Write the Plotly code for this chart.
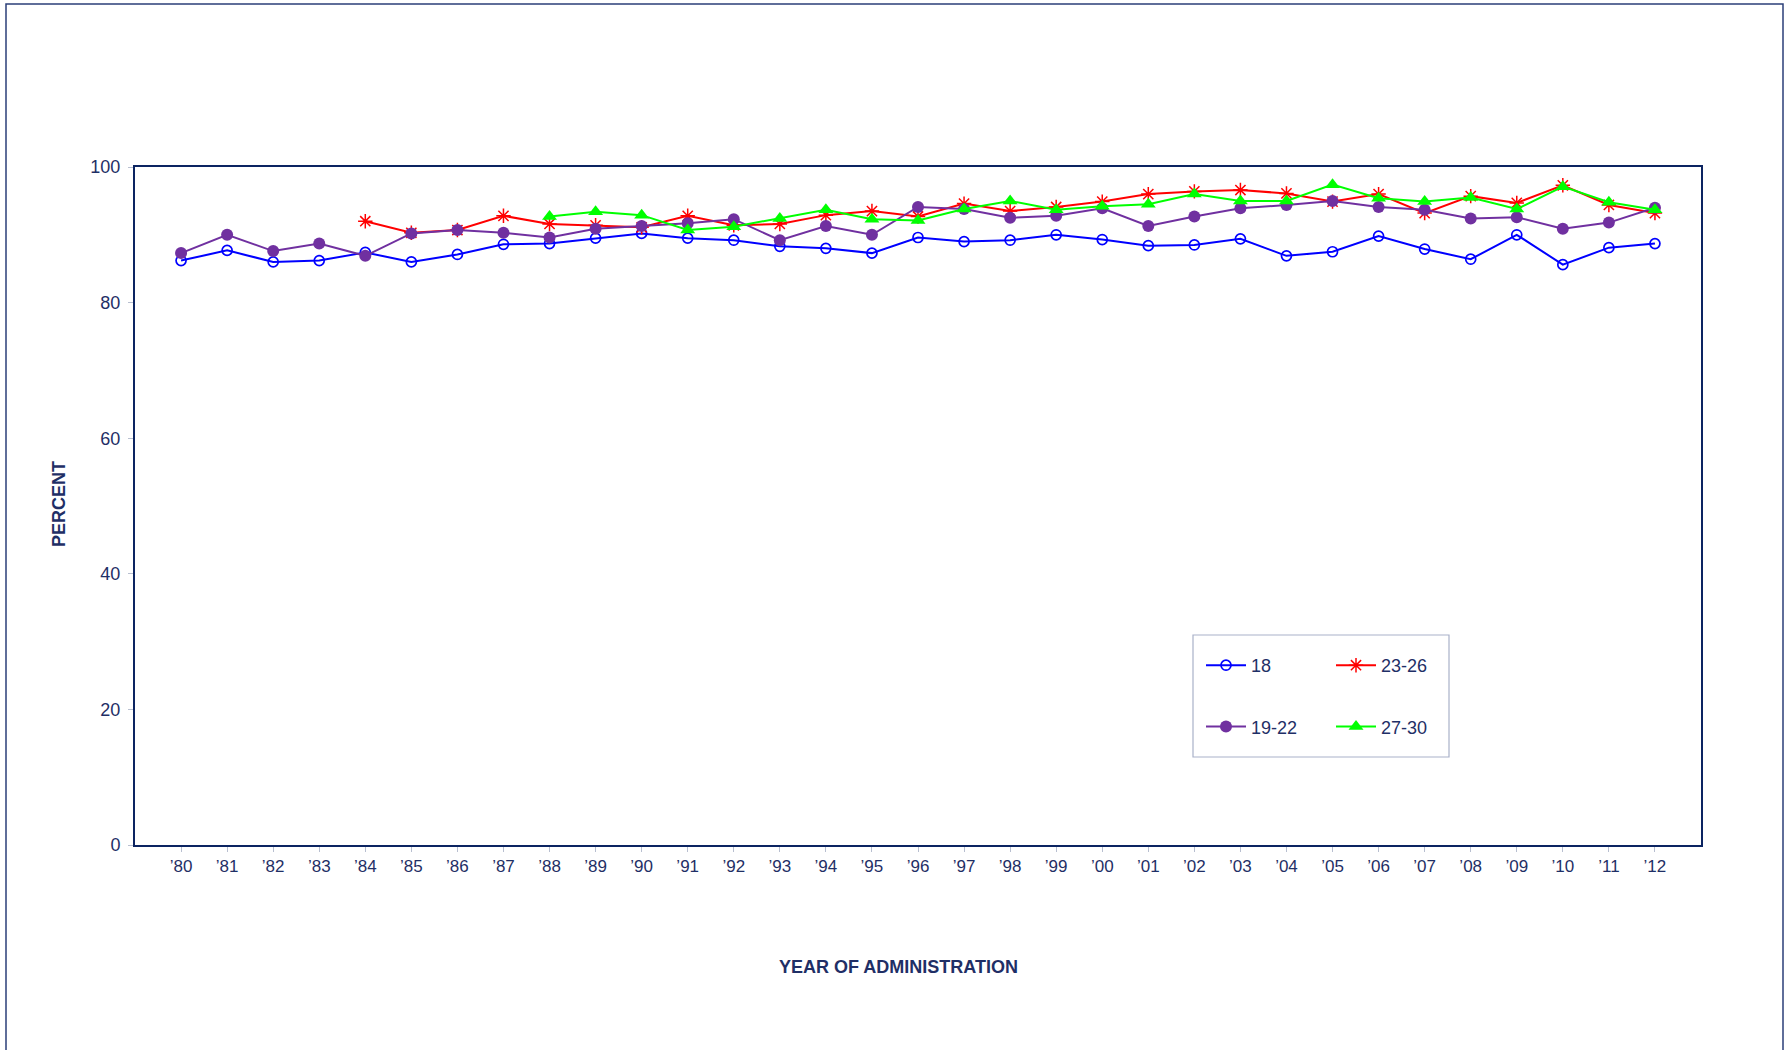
"""
Percent trend by age group, 1980-2012, Excel-style line chart.
"""
import plotly.graph_objects as go

# ── Theme ────────────────────────────────────────────────────────────────────
_NAVY = "#1f2f66"
_AXIS = "#0c2461"
_BOX = "#a9b1c9"
_FONT = "Liberation Sans, Arial, sans-serif"

# ── Data ─────────────────────────────────────────────────────────────────────
YEAR_LABELS = ["’80", "’81", "’82", "’83", "’84", "’85", "’86", "’87", "’88",
               "’89", "’90", "’91", "’92", "’93", "’94", "’95", "’96", "’97",
               "’98", "’99", "’00", "’01", "’02", "’03", "’04", "’05", "’06",
               "’07", "’08", "’09", "’10", "’11", "’12"]

AGE_18 = [86.2, 87.7, 86.0, 86.2, 87.4, 86.0, 87.1, 88.6, 88.7,
          89.5, 90.2, 89.5, 89.2, 88.3, 88.0, 87.3, 89.6,
          89.0, 89.2, 90.0, 89.3, 88.4, 88.5, 89.4, 86.9,
          87.5, 89.8, 87.9, 86.4, 90.0, 85.6, 88.1, 88.7]

AGE_19_22 = [87.3, 90.0, 87.6, 88.7, 86.9, 90.2, 90.7, 90.3, 89.6,
             90.9, 91.3, 91.7, 92.3, 89.2, 91.3, 90.0, 94.1,
             93.8, 92.5, 92.8, 93.9, 91.3, 92.7, 93.9, 94.4,
             95.0, 94.1, 93.7, 92.4, 92.6, 90.9, 91.8, 94.0]

# starts in '84
AGE_23_26 = [92.0, 90.3, 90.7, 92.8, 91.6,
             91.4, 91.1, 92.8, 91.4, 91.6, 92.9, 93.5, 92.7,
             94.6, 93.5, 94.1, 94.9, 96.0, 96.4, 96.6, 96.1,
             94.9, 96.0, 93.2, 95.7, 94.7, 97.3, 94.4, 93.2]

# starts in '88
AGE_27_30 = [92.7,
             93.4, 92.9, 90.7, 91.2, 92.4, 93.7, 92.3, 92.1,
             93.8, 95.0, 93.7, 94.2, 94.5, 96.0, 95.0, 95.0,
             97.4, 95.4, 94.9, 95.5, 93.8, 97.1, 94.8, 93.7]

X_ALL = list(range(len(YEAR_LABELS)))

# (name, x, y, colour, marker, legend) -- drawn in this order
SERIES = [
    ("18", X_ALL, AGE_18, "#0000ff",
     dict(symbol="circle-open", size=10, line=dict(width=1.7)), "legend"),
    ("23-26", X_ALL[4:], AGE_23_26, "#ff0000",
     dict(symbol="asterisk-open", size=12, line=dict(width=1.5, color="#ff0000")), "legend2"),
    ("19-22", X_ALL, AGE_19_22, "#7030a0",
     dict(symbol="circle", size=12), "legend"),
    ("27-30", X_ALL[8:], AGE_27_30, "#00ff00",
     dict(symbol="triangle-up", size=13), "legend2"),
]

fig = go.Figure()
for name, xs, ys, color, marker, leg in SERIES:
    fig.add_trace(go.Scatter(
        x=xs, y=ys, name=name, mode="lines+markers",
        line=dict(color=color, width=2),
        marker=dict(color=color, **marker),
        legend=leg, legendgroup=name,
    ))

W, H = 1792, 1050
L, R, T, B = 135, 91, 167, 205
pw, ph = W - L - R, H - T - B


def px_x(x):
    return (x - L) / pw


def px_y(y):
    return (H - B - y) / ph


_legend_common = dict(
    font=dict(family=_FONT, size=18, color=_NAVY),
    bgcolor="rgba(0,0,0,0)", borderwidth=0,
    tracegroupgap=35, xanchor="left", yanchor="top",
    itemwidth=40,
)

fig.update_layout(
    width=W, height=H,
    margin=dict(l=L, r=R, t=T, b=B),
    paper_bgcolor="white", plot_bgcolor="white",
    font=dict(family=_FONT, size=18, color=_NAVY),
    showlegend=True,
    legend=dict(x=px_x(1201), y=px_y(647), **_legend_common),
    legend2=dict(x=px_x(1331), y=px_y(647), **_legend_common),
    xaxis=dict(
        range=[-1, len(YEAR_LABELS)],
        tickmode="array", tickvals=X_ALL, ticktext=YEAR_LABELS,
        ticks="outside", ticklen=5, tickcolor="#b8bfd0",
        showgrid=False, zeroline=False,
        showline=True, linecolor=_AXIS, linewidth=2, mirror=True,
        tickfont=dict(size=17, color=_NAVY),
    ),
    yaxis=dict(
        range=[0, 100], tickvals=[0, 20, 40, 60, 80, 100],
        ticks="outside", ticklen=5, tickcolor="#b8bfd0",
        showgrid=False, zeroline=False,
        showline=True, linecolor=_AXIS, linewidth=2, mirror=True,
        tickfont=dict(size=18, color=_NAVY), ticklabelstandoff=4,
    ),
)

# axis titles
fig.add_annotation(
    text="<b>YEAR OF ADMINISTRATION</b>", xref="paper", yref="paper",
    x=px_x(898), y=px_y(967), yanchor="middle", showarrow=False,
    font=dict(size=18, color=_NAVY),
)
fig.add_annotation(
    text="<b>PERCENT</b>", xref="paper", yref="paper",
    x=px_x(59), y=px_y(504), xanchor="center", showarrow=False, textangle=-90,
    font=dict(size=18, color=_NAVY),
)

# legend frame and outer chart frame
fig.add_shape(type="rect", xref="paper", yref="paper",
              x0=px_x(1193), x1=px_x(1449), y0=px_y(757), y1=px_y(635),
              line=dict(color=_BOX, width=1.2))
fig.add_shape(type="rect", xref="paper", yref="paper",
              x0=px_x(6), x1=px_x(1783), y0=px_y(1060), y1=px_y(4),
              line=dict(color="#2b3f78", width=1.5))

fig.write_html("out.html", config={"displayModeBar": False},
               post_script="document.body.style.margin='0';")
